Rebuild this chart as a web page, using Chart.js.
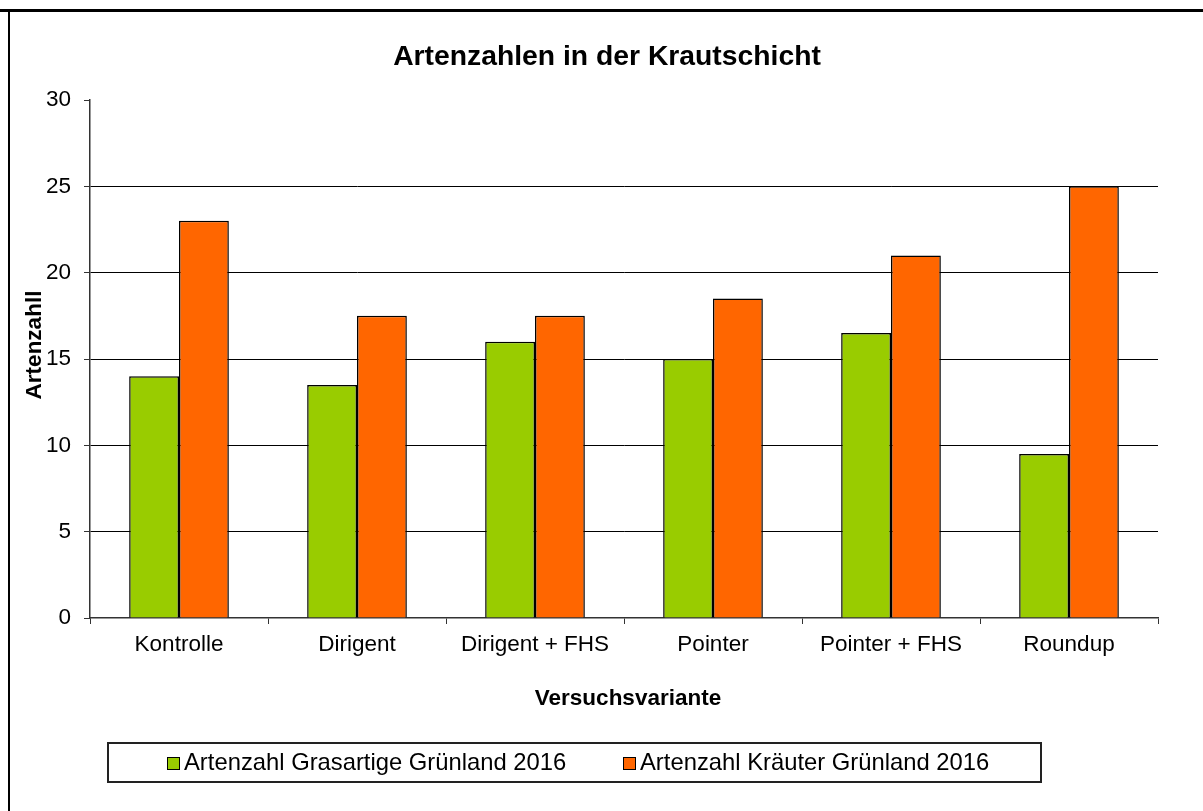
<!DOCTYPE html>
<html>
<head>
<meta charset="utf-8">
<script src="https://cdn.jsdelivr.net/npm/chart.js@4/dist/chart.umd.min.js"></script>
<style>
html,body{margin:0;padding:0;background:#fff;}
#wrap{width:1203px;height:811px;position:relative;}
</style>
</head>
<body>
<div id="wrap"><canvas id="c" width="1203" height="811"></canvas></div>
<script>
const categories = ["Kontrolle", "Dirigent", "Dirigent + FHS", "Pointer", "Pointer + FHS", "Roundup"];
const grasartige = [14, 13.5, 16, 15, 16.5, 9.5];
const kraeuter = [23, 17.5, 17.5, 18.5, 21, 25];
const seriesNames = ["Artenzahl Grasartige Grünland 2016", "Artenzahl Kräuter Grünland 2016"];
const chartTitle = "Artenzahlen in der Krautschicht";
const xTitle = "Versuchsvariante";
const yTitle = "Artenzahll";

const FONT = '"Liberation Sans", Arial, sans-serif';

const decor = {
  id: 'decor',
  beforeDraw(chart) {
    const ctx = chart.ctx;
    ctx.save();
    ctx.fillStyle = '#fff';
    ctx.fillRect(0, 0, chart.width, chart.height);
    ctx.fillStyle = '#000';
    ctx.fillRect(0, 9, chart.width, 3);
    ctx.fillRect(8, 12, 2, chart.height - 12);
    ctx.restore();
  },
  afterDraw(chart) {
    const ctx = chart.ctx;
    const area = chart.chartArea;
    ctx.save();
    ctx.fillStyle = '#000';
    ctx.font = 'bold 28.3px ' + FONT;
    ctx.textAlign = 'center';
    ctx.textBaseline = 'alphabetic';
    ctx.fillText(chartTitle, 607, 65);
    ctx.font = 'bold 22.5px ' + FONT;
    ctx.fillText(xTitle, (area.left + area.right) / 2 + 4, 705);
    ctx.save();
    ctx.translate(41, 345);
    ctx.rotate(-Math.PI / 2);
    ctx.fillText(yTitle, 0, 0);
    ctx.restore();
    ctx.strokeStyle = '#222';
    ctx.lineWidth = 2;
    ctx.strokeRect(108, 743, 933, 39);
    const ds = chart.data.datasets;
    const xs = [167, 623];
    ctx.font = '23.8px ' + FONT;
    ctx.textAlign = 'left';
    ds.forEach((d, i) => {
      ctx.fillStyle = d.backgroundColor;
      ctx.fillRect(xs[i], 757, 13, 13);
      ctx.strokeStyle = '#000';
      ctx.lineWidth = 1;
      ctx.strokeRect(xs[i] + 0.5, 757.5, 12, 12);
      ctx.fillStyle = '#000';
      ctx.fillText(d.label, xs[i] + 17, 770);
    });
    ctx.restore();
  }
};

new Chart(document.getElementById('c'), {
  type: 'bar',
  data: {
    labels: categories,
    datasets: [
      { label: seriesNames[0], data: grasartige, backgroundColor: '#99CC00', borderColor: '#000', borderWidth: 1.5, borderSkipped: 'bottom' },
      { label: seriesNames[1], data: kraeuter, backgroundColor: '#FF6600', borderColor: '#000', borderWidth: 1.5, borderSkipped: 'bottom' }
    ]
  },
  options: {
    responsive: false,
    animation: false,
    devicePixelRatio: 1,
    layout: { padding: { top: 100, right: 45, bottom: 0, left: 0 } },
    plugins: { legend: { display: false }, title: { display: false }, tooltip: { enabled: false } },
    datasets: { bar: { categoryPercentage: 0.56, barPercentage: 1.0 } },
    scales: {
      x: {
        offset: true,
        grid: { display: true, drawOnChartArea: false, drawTicks: true, tickLength: 6, offset: true, color: '#333', lineWidth: 1 },
        border: { display: true, color: '#333', width: 1.5 },
        ticks: { color: '#000', font: { family: FONT, size: 22.5 }, padding: 7, maxRotation: 0, autoSkip: false },
        afterFit(scale) { scale.height = 811 - 618; }
      },
      y: {
        min: 0, max: 30,
        grid: {
          color: (c) => (c.tick && (c.tick.value === 30 || c.tick.value === 0)) ? 'rgba(0,0,0,0)' : '#000',
          tickColor: '#333',
          tickLength: 6,
          lineWidth: 1
        },
        border: { display: true, color: '#333', width: 1.5 },
        ticks: { stepSize: 5, color: '#000', font: { family: FONT, size: 22.5 }, padding: 13 },
        afterFit(scale) { scale.width = 90; }
      }
    }
  },
  plugins: [decor]
});
</script>
</body>
</html>
